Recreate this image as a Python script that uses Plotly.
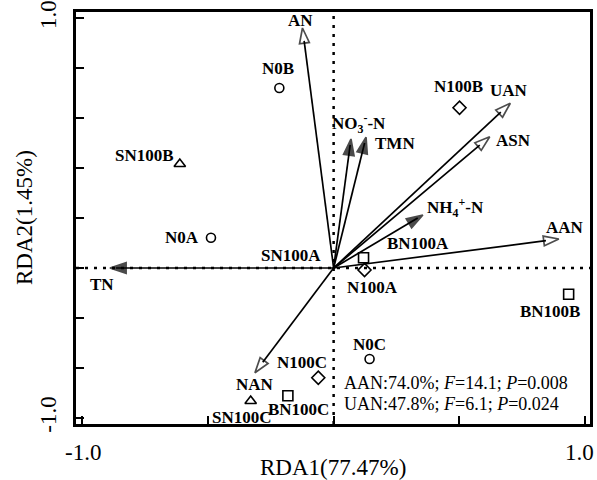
import plotly.graph_objects as go

# ---------------- data ----------------
sample_names = ["N0A", "N0B", "N0C",
                "N100A", "N100B", "N100C",
                "BN100A", "BN100B", "BN100C",
                "SN100A", "SN100B", "SN100C"]
sample_x = [-0.488, -0.216, 0.143,
            0.123, 0.501, -0.061,
            0.119, 0.935, -0.182,
            0.000, -0.612, -0.330]
sample_y = [0.121, 0.720, -0.364,
            -0.008, 0.641, -0.439,
            0.041, -0.105, -0.511,
            0.000, 0.416, -0.532]
sample_group = ["N0", "N0", "N0",
                "N100", "N100", "N100",
                "BN100", "BN100", "BN100",
                "SN100", "SN100", "SN100"]

var_names = ["AN", "NO<sub>3</sub><sup>-</sup>-N", "TMN", "UAN", "ASN",
             "NH<sub>4</sub><sup>+</sup>-N", "AAN", "TN", "NAN"]
var_x = [-0.124, 0.069, 0.129, 0.703, 0.621, 0.355, 0.896, -0.890, -0.313]
var_y = [0.960, 0.516, 0.523, 0.659, 0.525, 0.212, 0.116, 0.000, -0.419]
var_filled = [False, True, True, False, False, True, False, True, False]

x_label_vals = [-1.0, 1.0]
x_label_text = ["-1.0", "1.0"]
x_tick_vals = [-1.0, -0.5, 0.0, 0.5, 1.0]
y_label_vals = [-0.6, 1.0]
y_label_text = ["-1.0", "1.0"]
y_tick_vals = [-0.6, -0.4, -0.2, 0.0, 0.2, 0.4, 0.6, 0.8, 1.0]

x_title = "RDA1(77.47%)"
y_title = "RDA2(1.45%)"
stats_lines = ["AAN:74.0%; <i>F</i>=14.1; <i>P</i>=0.008",
               "UAN:47.8%; <i>F</i>=6.1; <i>P</i>=0.024"]

# ---------------- styles ----------------
FONT = "Liberation Serif"
group_symbol = {"N0": "circle-open", "N100": "diamond-open",
                "BN100": "square-open", "SN100": "triangle-up-open"}
group_size = {"N0": 9, "N100": 10, "BN100": 10, "SN100": 10}
# label offsets in pixels (dx right, dy up)
sample_label_shift = {
    "N0A": (-29, 0), "N0B": (-1, 20), "N0C": (0, 15),
    "N100A": (8, -17), "N100B": (-1, 21), "N100C": (-16, 15),
    "BN100A": (54, 14), "BN100B": (-19, -17), "BN100C": (11, -14),
    "SN100A": (-43, 13), "SN100B": (-35, 9), "SN100C": (-9, -16),
}
var_label_shift = [(-2, 8), (8, 16), (29, -6), (-1, 13), (24, -4),
                   (33, 8), (6, 12), (-8, -16), (0, -12)]
hidden_markers = {"SN100A"}
x_label_anchor = ["center", "right"]
x_label_xshift = [1, 11]

fig = go.Figure()

# dotted zero lines
fig.add_shape(type="line", xref="x", yref="paper", x0=0, x1=0, y0=0, y1=1,
              line=dict(color="black", width=2.5, dash="3px,6px"), layer="below")
fig.add_shape(type="line", xref="paper", yref="y", x0=0, x1=1, y0=0, y1=0,
              line=dict(color="black", width=2.5, dash="3px,6px"), layer="below")

# arrows
for name, vx, vy, filled in zip(var_names, var_x, var_y, var_filled):
    fig.add_trace(go.Scatter(
        x=[0, vx], y=[0, vy], mode="lines+markers",
        line=dict(color="black", width=1.7, backoff=6 if filled else 13),
        marker=dict(symbol="arrow" if filled else "arrow-open",
                    size=[0, 17 if filled else 16], angleref="previous",
                    color="black", line=dict(color="black", width=1.7)),
        hoverinfo="skip", showlegend=False, cliponaxis=False))

# sample points
for grp in ["N0", "N100", "BN100", "SN100"]:
    xs, ys = [], []
    for n, sx, sy, g in zip(sample_names, sample_x, sample_y, sample_group):
        if g == grp and n not in hidden_markers:
            xs.append(sx)
            ys.append(sy)
    fig.add_trace(go.Scatter(
        x=xs, y=ys, mode="markers",
        marker=dict(symbol=group_symbol[grp], size=group_size[grp],
                    color="black", line=dict(color="black", width=1.6)),
        showlegend=False, hoverinfo="skip"))

annotations = []
for n, sx, sy in zip(sample_names, sample_x, sample_y):
    dx, dy = sample_label_shift[n]
    annotations.append(dict(x=sx, y=sy, xref="x", yref="y", text="<b>%s</b>" % n,
                            showarrow=False, xshift=dx, yshift=dy,
                            font=dict(family=FONT, size=17, color="black")))
for name, vx, vy, (dx, dy) in zip(var_names, var_x, var_y, var_label_shift):
    annotations.append(dict(x=vx, y=vy, xref="x", yref="y", text="<b>%s</b>" % name,
                            showarrow=False, xshift=dx, yshift=dy,
                            font=dict(family=FONT, size=17, color="black")))
for i, line in enumerate(stats_lines):
    annotations.append(dict(x=0.032, y=-0.46 - 0.082 * i, xref="x", yref="y",
                            text=line, showarrow=False, xanchor="left",
                            font=dict(family=FONT, size=18, color="black")))
# x tick labels (placed as annotations so the right one stays inside the page)
for v, t, anc, sh in zip(x_label_vals, x_label_text, x_label_anchor, x_label_xshift):
    annotations.append(dict(x=v, y=0, xref="x", yref="paper", text=t,
                            showarrow=False, xanchor=anc, yanchor="middle",
                            xshift=sh, yshift=-28,
                            font=dict(family=FONT, size=23, color="black")))
annotations.append(dict(x=0.5, y=0, xref="paper", yref="paper", text=x_title,
                        showarrow=False, yanchor="middle", yshift=-43,
                        font=dict(family=FONT, size=23, color="black")))
annotations.append(dict(x=0, y=0.5, xref="paper", yref="paper", text=y_title,
                        showarrow=False, xanchor="center", textangle=-90, xshift=-52,
                        font=dict(family=FONT, size=23, color="black")))

axis_common = dict(showgrid=False, zeroline=False, showline=True, linecolor="black",
                   linewidth=2.5, mirror=True, ticks="inside", ticklen=8,
                   tickwidth=2, tickcolor="black",
                   tickfont=dict(family=FONT, size=23, color="black"))

fig.update_layout(
    width=597, height=480,
    margin=dict(l=76, r=7, t=12, b=56, autoexpand=False),
    paper_bgcolor="white", plot_bgcolor="white",
    xaxis=dict(range=[-1.025, 1.02], tickmode="array", tickvals=x_tick_vals,
               showticklabels=False, **axis_common),
    yaxis=dict(range=[-0.624, 1.024], tickmode="array", tickvals=y_label_vals,
               ticktext=y_label_text, tickangle=-90, ticklabelstandoff=8,
               minor=dict(tickmode="array", tickvals=y_tick_vals, ticks="inside",
                          ticklen=8, tickwidth=2, tickcolor="black", showgrid=False),
               **axis_common),
    annotations=annotations,
    showlegend=False,
)

fig.write_html("out.html")
